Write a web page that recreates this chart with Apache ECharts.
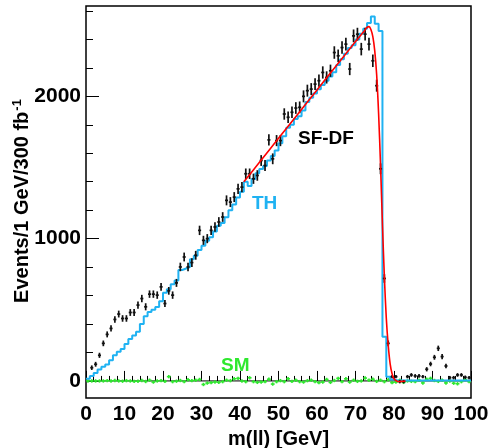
<!DOCTYPE html>
<html>
<head>
<meta charset="utf-8">
<script src="https://cdn.jsdelivr.net/npm/echarts@6/dist/echarts.min.js"></script>
<style>
html,body{margin:0;padding:0;background:#fff;}
#c{width:490px;height:448px;}
</style>
</head>
<body>
<div id="c"></div>
<script>
// ---- data ----
// SF-DF data points: bin centres 1.5 ... 99.5 GeV
const sfdfX0 = 1.5;
const sfdfValues = [93,117,180,264,327,369,432,470,439,439,481,481,533,579,521,610,610,603,661,544,
  633,603,689,801,871,801,832,883,1058,988,1000,1058,1082,1117,1152,1269,1257,1292,1350,1362,
  1456,1456,1421,1444,1549,1514,1694,1561,1689,1689,1876,1853,1888,1918,1923,2000,2040,2051,2086,2110,
  2168,2133,2180,2308,2285,2343,2367,2192,2425,2437,2332,2437,2367,2250,2075,1491,720,264,30,30,
  -5,-5,30,42,35,35,30,82,119,166,229,171,105,23,23,42,42,26,23];
const sfdfErrors = [16,17,18,20,21,22,23,24,23,23,24,24,25,26,25,26,26,26,27,25,
  27,26,28,30,31,30,31,31,33,32,32,33,33,34,34,35,35,35,36,36,
  37,37,36,37,38,38,39,38,39,39,40,40,40,41,41,42,42,42,42,43,
  43,43,43,44,44,44,44,43,45,45,44,45,44,44,42,38,30,20,12,12,
  12,12,12,13,13,13,12,15,16,17,19,18,16,12,12,13,13,12,12];
// TH histogram: bins [0,1), [1,2) ... [99,100)
const thValues = [15,35,55,80,100,115,145,180,205,225,260,295,320,345,400,455,485,500,520,560,
  620,645,680,705,780,790,800,855,880,920,950,985,1010,1050,1090,1110,1150,1200,1240,1290,
  1330,1400,1370,1420,1460,1490,1510,1550,1580,1620,1670,1720,1780,1800,1840,1860,1900,1960,1990,2020,
  2050,2080,2110,2140,2170,2220,2260,2300,2340,2360,2400,2440,2475,2515,2561,2510,2459,310,30,10,
  3,3,3,3,3,3,3,3,3,3,3,3,3,3,3,3,3,3,3,3];
// SM points: bin centres 0.5 ... 99.5 GeV
const smValues = [0,0,0,0,0,2,0,3,0,-2,2,0,-3,-2,3,-4,5,-8,0,2,
  -3,30,-5,-2,3,-5,8,2,5,10,-25,-15,-12,-8,-10,-5,5,2,15,18,
  0,-5,22,-5,-10,-8,-5,12,-22,-5,2,-5,15,-3,5,-5,-8,2,5,-5,
  -12,-8,10,-10,3,18,-5,15,-8,5,-3,0,20,5,12,-3,5,-5,8,-12,
  -8,5,-10,0,-3,-5,5,-14,12,18,3,-3,5,-14,0,-16,-20,-5,10,-5];
const smErrors = 12;
// fit curve (GeV, events)
const fitX = [41,45,50,55,60,65,70,72,73,73.5,74,74.5,75,75.5,76,76.5,77,77.5,78,78.5,79,79.5,80,80.5,81,82,83];
const fitY = [1399,1535,1705,1875,2045,2215,2385,2450,2485,2490,2470,2420,2320,2150,1880,1520,1100,730,440,250,120,50,15,3,-4,-3,0];
// axes
const xMin = 0, xMax = 100, xStep = 10;
const yMin = -120, yMax = 2635;
const yLabels = [0, 1000, 2000];
const yMinor = [200,400,600,800,1200,1400,1600,1800,2200,2400,2600];

// ---- build ----
const blackPts = sfdfValues.map((v, i) => [sfdfX0 + i, v, sfdfErrors[i]]);
const smPts = smValues.map((v, i) => [0.5 + i, v, smErrors]);
const thPts = thValues.map((v, i) => [i, v]);
thPts.push([thValues.length, thValues[thValues.length - 1]]);
const fitPts = fitX.map((x, i) => [x, fitY[i]]);

function errRender(color, halfW, lw) {
  return function (params, api) {
    const x = api.value(0), y = api.value(1), e = api.value(2);
    const c = api.coord([x, y]);
    const t = api.coord([x, y + e]);
    const b = api.coord([x, y - e]);
    const l = api.coord([x - halfW, y]);
    const r = api.coord([x + halfW, y]);
    return {
      type: 'group',
      children: [
        {type: 'line', shape: {x1: c[0], y1: t[1], x2: c[0], y2: b[1]}, style: {stroke: color, lineWidth: lw}},
        {type: 'line', shape: {x1: l[0], y1: c[1], x2: r[0], y2: c[1]}, style: {stroke: color, lineWidth: lw}}
      ]
    };
  };
}

const FONT = '"Liberation Sans", Arial, Helvetica, sans-serif';
const chart = echarts.init(document.getElementById('c'), null, {renderer: 'canvas'});
chart.setOption({
  animation: false,
  backgroundColor: '#fff',
  grid: {left: 86, right: 19, top: 6, bottom: 50, show: true, borderColor: '#000', borderWidth: 1.5,
         backgroundColor: 'transparent', containLabel: false, outerBoundsMode: 'none'},
  xAxis: {
    type: 'value', min: xMin, max: xMax, interval: xStep,
    axisLine: {show: false},
    axisTick: {show: true, inside: true, length: 10, lineStyle: {color: '#000', width: 1}},
    minorTick: {show: true, splitNumber: 5, length: 5, lineStyle: {color: '#000', width: 1}},
    splitLine: {show: false},
    axisLabel: {color: '#000', fontFamily: FONT, fontWeight: 'bold', fontSize: 21, margin: 6, formatter: v => String(v)},
    name: 'm(ll) [GeV]', nameLocation: 'middle', nameGap: 31,
    nameTextStyle: {color: '#000', fontFamily: FONT, fontWeight: 'bold', fontSize: 20}
  },
  yAxis: [{
    type: 'value', min: yMin, max: yMax,
    axisLine: {show: false},
    axisTick: {show: true, inside: true, length: 13, customValues: yLabels, lineStyle: {color: '#000', width: 1}},
    splitLine: {show: false},
    axisLabel: {color: '#000', fontFamily: FONT, fontWeight: 'bold', fontSize: 21, margin: 5, customValues: yLabels, formatter: v => String(v)}
  }, {
    type: 'value', min: yMin, max: yMax, position: 'left',
    axisLine: {show: false},
    axisTick: {show: true, inside: true, length: 7, customValues: yMinor, lineStyle: {color: '#000', width: 1}},
    axisLabel: {show: false},
    splitLine: {show: false}
  }],
  graphic: [
    {type: 'text', x: 22, y: 201, rotation: Math.PI / 2,
     style: {
       text: '{a|Events/1 GeV/300 fb}{s|-1}', align: 'center', verticalAlign: 'middle',
       rich: {
         a: {fill: '#000', fontFamily: FONT, fontWeight: 'bold', fontSize: 20},
         s: {fill: '#000', fontFamily: FONT, fontWeight: 'bold', fontSize: 13, verticalAlign: 'top', padding: [0, 0, 10, 1]}
       }
     }},
    {type: 'text', left: 298, top: 129, style: {text: 'SF-DF', fill: '#000', font: 'bold 19px ' + FONT}},
    {type: 'text', left: 252, top: 194, style: {text: 'TH', fill: '#1fb2f2', font: 'bold 19px ' + FONT}},
    {type: 'text', left: 221, top: 356, style: {text: 'SM', fill: '#2ee82e', font: 'bold 19px ' + FONT}}
  ],
  series: [
    {
      type: 'line', data: [[xMin, 0], [xMax, 0]], symbol: 'none', silent: true,
      lineStyle: {color: '#000', width: 1}, z: 1
    },
    {
      type: 'custom', data: smPts, renderItem: errRender('#2ee82e', 0.5, 1.6), z: 2, silent: true
    },
    {
      type: 'line', data: thPts, step: 'end', symbol: 'none', silent: true,
      lineStyle: {color: '#1fb2f2', width: 2}, z: 3
    },
    {
      type: 'custom', data: blackPts, renderItem: errRender('#111', 0.4, 1.7), z: 4, silent: true
    },
    {
      type: 'line', data: fitPts, smooth: 0.3, symbol: 'none', silent: true,
      lineStyle: {color: '#ff0000', width: 1.6}, z: 5
    }
  ]
});
</script>
</body>
</html>
